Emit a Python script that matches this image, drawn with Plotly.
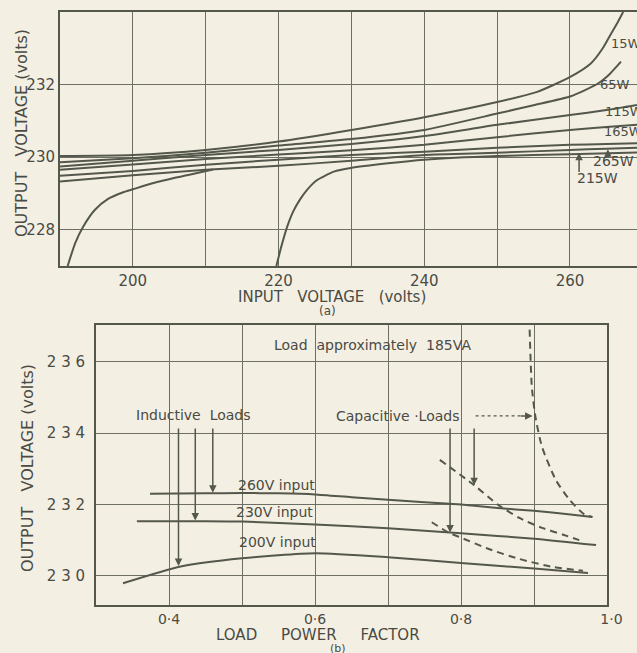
import plotly.graph_objects as go

# (a) output voltage vs input voltage, one curve per load
vin_15w = [190, 200, 210, 220, 230, 240, 250, 255.5, 260.1, 262.9, 264.5, 265.5, 266.5, 267.3]
vout_15w = [230.03, 230.06, 230.2, 230.43, 230.75, 231.10, 231.52, 231.80, 232.22, 232.59, 233.0, 233.35, 233.7, 234.0]

vin_65w = [190, 200, 210, 220, 230, 240, 250, 255, 260, 262, 264, 265.5, 267]
vout_65w = [229.86, 229.97, 230.12, 230.32, 230.5, 230.75, 231.2, 231.43, 231.67, 231.84, 232.05, 232.3, 232.63]

vin_common = [190, 200, 210, 220, 230, 240, 250, 260, 265, 269.2]
vout_115w = [229.74, 229.9, 230.06, 230.2, 230.36, 230.58, 230.89, 231.16, 231.3, 231.44]
vout_165w = [229.65, 229.8, 229.95, 230.07, 230.19, 230.34, 230.55, 230.75, 230.83, 230.89]
vout_265w = [229.49, 229.62, 229.79, 229.93, 230.06, 230.15, 230.26, 230.34, 230.36, 230.38]
vout_215w = [229.33, 229.5, 229.65, 229.76, 229.9, 230.06, 230.12, 230.2, 230.23, 230.26]

vin_low1 = [191.05, 192.1, 193.2, 194.8, 196.6, 198.5, 200.1, 203.1, 207.6, 211]
vout_low1 = [227.0, 227.64, 228.09, 228.55, 228.85, 229.02, 229.12, 229.3, 229.51, 229.66]

vin_low2 = [219.7, 220.4, 221.2, 222.0, 223.0, 224.0, 225.3, 227.6, 229.9, 235, 240, 250, 260, 269.2]
vout_low2 = [227.0, 227.55, 228.09, 228.5, 228.85, 229.12, 229.37, 229.6, 229.7, 229.83, 229.93, 230.03, 230.08, 230.13]

# (b) output voltage vs load power factor
pf_260 = [0.374, 0.45, 0.5, 0.55, 0.6, 0.65, 0.7, 0.75, 0.8, 0.85, 0.9, 0.95, 0.98]
out_260 = [232.3, 232.31, 232.32, 232.31, 232.28, 232.2, 232.13, 232.06, 232.0, 231.9, 231.82, 231.72, 231.65]

pf_230 = [0.356, 0.45, 0.5, 0.6, 0.7, 0.8, 0.9, 0.985]
out_230 = [231.53, 231.53, 231.52, 231.44, 231.33, 231.19, 231.04, 230.86]

pf_200 = [0.337, 0.416, 0.5, 0.6, 0.7, 0.8, 0.9, 0.974]
out_200 = [229.79, 230.26, 230.49, 230.63, 230.52, 230.36, 230.2, 230.08]

pf_cap1 = [0.894, 0.897, 0.902, 0.911, 0.93, 0.949, 0.969, 0.98]
out_cap1 = [236.9, 235.3, 234.45, 233.61, 232.68, 232.12, 231.72, 231.65]

pf_cap2 = [0.771, 0.818, 0.85, 0.88, 0.91, 0.94, 0.962]
out_cap2 = [233.25, 232.54, 232.0, 231.62, 231.35, 231.15, 231.0]

pf_cap3 = [0.76, 0.783, 0.801, 0.838, 0.88, 0.925, 0.967]
out_cap3 = [231.5, 231.21, 231.06, 230.75, 230.47, 230.25, 230.14]

BG = "#f4efe3"
INK = "#54584c"
GRID = "#6e6f64"
TXT = "#4a4b44"
FONT = "DejaVu Sans"
W, H = 637, 653


def px(x):
    return x / W


def py(y):
    return (H - y) / H


fig = go.Figure()


def curve(x, y, xa, ya, dash="solid"):
    fig.add_trace(go.Scatter(x=x, y=y, xaxis=xa, yaxis=ya, mode="lines",
                             line=dict(color=INK, width=2, dash=dash, shape="spline", smoothing=0.6),
                             showlegend=False, hoverinfo="skip"))


curve(vin_15w, vout_15w, "x", "y")
curve(vin_65w, vout_65w, "x", "y")
curve(vin_common, vout_115w, "x", "y")
curve(vin_common, vout_165w, "x", "y")
curve(vin_common, vout_265w, "x", "y")
curve(vin_common, vout_215w, "x", "y")
curve(vin_low1, vout_low1, "x", "y")
curve(vin_low2, vout_low2, "x", "y")

curve(pf_260, out_260, "x2", "y2")
curve(pf_230, out_230, "x2", "y2")
curve(pf_200, out_200, "x2", "y2")
curve(pf_cap1, out_cap1, "x2", "y2", dash="7px,5px")
curve(pf_cap2, out_cap2, "x2", "y2", dash="7px,5px")
curve(pf_cap3, out_cap3, "x2", "y2", dash="7px,5px")

axis_common = dict(showline=True, linecolor=INK, linewidth=2, mirror=True,
                   showgrid=True, gridcolor=GRID, gridwidth=1.1, zeroline=False,
                   automargin=False, ticks="", tickfont=dict(family=FONT, size=15, color=TXT))

fig.update_layout(
    width=W, height=H, autosize=False,
    margin=dict(l=0, r=0, t=0, b=0, pad=0, autoexpand=False),
    paper_bgcolor=BG, plot_bgcolor=BG,
    xaxis=dict(axis_common, domain=[px(60), 1.0], anchor="y", range=[190, 269.2],
               tickvals=[200, 220, 240, 260], ticklabelstandoff=0,
               minor=dict(dtick=10, tick0=190, showgrid=True, gridcolor=GRID, gridwidth=1.1)),
    yaxis=dict(axis_common, domain=[py(266), py(12)], anchor="x",
               range=[227, 234], tickvals=[228, 230, 232], ticklabelstandoff=0,
               minor=dict(dtick=2, tick0=228, showgrid=True, gridcolor=GRID, gridwidth=1.1)),
    xaxis2=dict(axis_common, domain=[px(96), px(607)], anchor="y2", range=[0.3, 1.0],
                tickvals=[0.4, 0.6, 0.8, 1.0], ticktext=["0·4", "0·6", "0·8", "  1·0"],
                ticklabelstandoff=0, tickfont=dict(family=FONT, size=14, color=TXT),
                minor=dict(dtick=0.1, tick0=0.3, showgrid=True, gridcolor=GRID, gridwidth=1.1)),
    yaxis2=dict(axis_common, domain=[py(605), py(325)], anchor="x2",
                range=[229.18, 237.03], tickvals=[230, 232, 234, 236],
                ticktext=["2 3 0", "2 3 2", "2 3 4", "2 3 6"], ticklabelstandoff=6),
)


def note(text, x, y, xref, yref, size=14, xanchor="center", angle=0):
    fig.add_annotation(text=text, x=x, y=y, xref=xref, yref=yref, showarrow=False,
                       xanchor=xanchor, yanchor="middle", textangle=angle,
                       font=dict(family=FONT, size=size, color=TXT))


def arrow(x, y, ax, ay, xref, yref):
    fig.add_annotation(x=x, y=y, ax=ax, ay=ay, xref=xref, yref=yref, axref=xref, ayref=yref,
                       text="", showarrow=True, arrowhead=2, arrowsize=1, arrowwidth=1.5,
                       arrowcolor=INK)


# titles
note("OUTPUT   VOLTAGE (volts)", px(21), py(133), "paper", "paper", size=16, angle=-90)
note("INPUT   VOLTAGE   (volts)", px(332), py(297), "paper", "paper", size=15)
note("(a)", px(327), py(311), "paper", "paper", size=12)
note("OUTPUT   VOLTAGE (volts)", px(27), py(468), "paper", "paper", size=16, angle=-90)
note("LOAD     POWER     FACTOR", px(318), py(635), "paper", "paper", size=15)
note("(b)", px(338), py(648), "paper", "paper", size=11)

# load labels on (a), squeezed against the right edge like the original
note("15W", 265.4, 233.12, "x", "y", size=13, xanchor="left")
note("65W", 263.9, 232.0, "x", "y", size=13, xanchor="left")
note("115W", 264.5, 231.27, "x", "y", size=13, xanchor="left")
note("165W", 264.4, 230.72, "x", "y", size=13, xanchor="left")
note("265W", 262.9, 229.9, "x", "y", size=14, xanchor="left")
note("215W", 260.7, 229.43, "x", "y", size=14, xanchor="left")
arrow(261.25, 230.12, 261.25, 229.55, "x", "y")
arrow(265.2, 230.22, 265.2, 230.0, "x", "y")

# texts on (b)
note("Load  approximately  185VA", 0.679, 236.47, "x2", "y2", size=14)
note("Inductive  Loads", 0.434, 234.51, "x2", "y2", size=14)
note("Capacitive ·Loads", 0.713, 234.48, "x2", "y2", size=14)
note("260V input", 0.547, 232.55, "x2", "y2", size=14)
note("230V input", 0.545, 231.79, "x2", "y2", size=14)
note("200V input", 0.548, 230.95, "x2", "y2", size=14)

arrow(0.413, 230.27, 0.413, 234.17, "x2", "y2")
arrow(0.436, 231.55, 0.436, 234.17, "x2", "y2")
arrow(0.46, 232.33, 0.46, 234.17, "x2", "y2")
arrow(0.785, 231.21, 0.785, 234.17, "x2", "y2")
arrow(0.818, 232.54, 0.818, 234.17, "x2", "y2")
fig.add_shape(type="line", x0=0.82, y0=234.48, x1=0.885, y1=234.48, xref="x2", yref="y2",
              line=dict(color=INK, width=1.3, dash="dot"))
arrow(0.898, 234.48, 0.88, 234.48, "x2", "y2")

# drop the default page margin and scrollbars so the figure sits flush in the window
fig.write_html("out.html", config={"responsive": False, "displayModeBar": False},
               post_script="document.body.style.margin='0px';"
                           "document.documentElement.style.overflow='hidden';")
